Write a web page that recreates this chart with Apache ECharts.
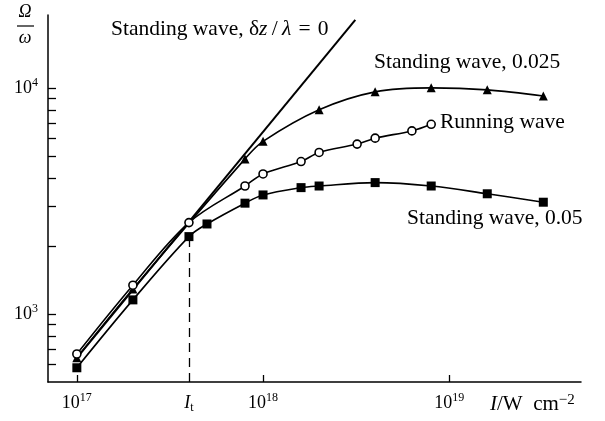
<!DOCTYPE html>
<html>
<head>
<meta charset="utf-8">
<script src="https://cdn.jsdelivr.net/npm/echarts@6/dist/echarts.min.js"></script>
<style>
    html, body { margin: 0; padding: 0; background: #fff; }
    #main { width: 605px; height: 421px; }
</style>
</head>
<body>
<div id="main"></div>
<script>
// intensities, W cm^-2
const zeroLine = [[1e17, 640], [3.13e18, 20000]]

const tri = [
    [1e17, 640], [2e17, 1290], [8e17, 4850], [1e18, 5800], [2e18, 8000],
    [4e18, 9600], [8e18, 10000], [1.6e19, 9800], [3.2e19, 9200]
]

const running = [
    [1e17, 665], [2e17, 1340], [4e17, 2535], [8e17, 3680], [1e18, 4160],
    [1.6e18, 4720], [2e18, 5180], [3.2e18, 5640], [4e18, 5990], [6.3e18, 6450], [8e18, 6900]
]

const squares = [
    [1e17, 578], [2e17, 1154], [4e17, 2198], [5e17, 2500], [8e17, 3090], [1e18, 3360],
    [1.6e18, 3620], [2e18, 3680], [4e18, 3810], [8e18, 3680], [1.6e19, 3400], [3.2e19, 3120]
]

const xTicks = [1e17, 1e18, 1e19]
const xLabels = [1e17, 4e17, 1e18, 1e19]
const yTicks = [600, 700, 800, 900, 1000, 2000, 3000, 4000, 5000, 6000, 7000, 8000, 9000, 10000]
const yLabels = [1000, 10000]
const threshold = 4e17

const xMin = 7e16, xMax = 5.1e19
const yMin = 500, yMax = 21000

// tick length as a factor along each log axis (~8px and ~7px)
const tickX = 1.104
const tickY = 1.074

const serif = 'Liberation Serif'

const rich = {
    n: { fontFamily: serif, fontSize: 18, lineHeight: 22, color: '#000' },
    s: { fontFamily: serif, fontSize: 12, lineHeight: 12, verticalAlign: 'top', color: '#000' },
    i: { fontFamily: serif, fontSize: 18, lineHeight: 22, fontStyle: 'italic', color: '#000' },
    t: { fontFamily: serif, fontSize: 12, lineHeight: 12, verticalAlign: 'bottom', color: '#000' }
}

function powLabel(v) {
    let p = Math.round(Math.log10(v))
    if (Math.abs(Math.log10(v) - Math.log10(threshold)) < 0.01) {
        return '{i|I}{t|t}'
    }
    return '{n|10}{s|' + p + '}'
}

const tickSegments = yTicks.map(v => [{ coord: [xMin, v] }, { coord: [xMin * tickX, v] }])
    .concat(xTicks.map(v => [{ coord: [v, yMin] }, { coord: [v, yMin * tickY] }]))

const myChart = echarts.init(document.getElementById('main'))

const black = '#000'
const labelFont = '21.5px "Liberation Serif"'

const option = {
    animation: false,
    backgroundColor: '#fff',
    grid: {
        left: 48,
        right: 24,
        top: 15,
        bottom: 39
    },
    xAxis: {
        type: 'log',
        logBase: 10,
        min: xMin,
        max: xMax,
        axisLine: { lineStyle: { color: black, width: 1.5 } },
        axisTick: { show: false },
        axisLabel: {
            customValues: xLabels,
            margin: 10,
            formatter: powLabel,
            rich: rich
        },
        splitLine: { show: false }
    },
    yAxis: {
        type: 'log',
        logBase: 10,
        min: yMin,
        max: yMax,
        axisLine: { show: true, lineStyle: { color: black, width: 1.5 } },
        axisTick: { show: false },
        axisLabel: {
            customValues: yLabels,
            margin: 10,
            formatter: powLabel,
            rich: rich
        },
        splitLine: { show: false }
    },
    series: [
        {
            name: 'zero',
            type: 'line',
            data: zeroLine,
            symbol: 'none',
            lineStyle: { color: black, width: 2 },
            markLine: {
                silent: true,
                symbol: 'none',
                label: { show: false },
                lineStyle: { color: black, width: 1.3, type: 'solid' },
                data: tickSegments
            }
        },
        {
            name: 'standing 0.025',
            type: 'line',
            data: tri,
            smooth: 0.35,
            symbol: 'triangle',
            symbolSize: 9,
            itemStyle: { color: black },
            lineStyle: { color: black, width: 1.6 }
        },
        {
            name: 'standing 0.05',
            type: 'line',
            data: squares,
            smooth: 0.35,
            symbol: 'rect',
            symbolSize: 9,
            itemStyle: { color: black },
            lineStyle: { color: black, width: 1.6 },
            markLine: {
                silent: true,
                symbol: 'none',
                label: { show: false },
                lineStyle: { color: black, width: 1.3, type: [9, 6] },
                data: [
                    [{ coord: [threshold, yMin] }, { coord: [threshold, 2198] }]
                ]
            }
        },
        {
            name: 'running',
            type: 'line',
            data: running,
            smooth: 0.35,
            symbol: 'circle',
            symbolSize: 8,
            itemStyle: { color: '#fff', borderColor: black, borderWidth: 1.6 },
            lineStyle: { color: black, width: 1.6 }
        }
    ],
    graphic: [
        {
            type: 'text',
            style: {
                x: 111, y: 29,
                verticalAlign: 'middle',
                text: '{r|Standing wave, δ}{i|z}{r|\u2009/\u2009}{i|λ}{r| \u200a=\u200a 0}',
                rich: {
                    r: { fontFamily: serif, fontSize: 21.5, fill: black },
                    i: { fontFamily: serif, fontSize: 21.5, fontStyle: 'italic', fill: black }
                }
            }
        },
        {
            type: 'text',
            style: {
                x: 374, y: 62, verticalAlign: 'middle',
                text: 'Standing wave, 0.025',
                font: labelFont, fill: black
            }
        },
        {
            type: 'text',
            style: {
                x: 440, y: 122, verticalAlign: 'middle',
                text: 'Running wave',
                font: labelFont, fill: black
            }
        },
        {
            type: 'text',
            style: {
                x: 407, y: 218, verticalAlign: 'middle',
                text: 'Standing wave, 0.05',
                font: labelFont, fill: black
            }
        },
        {
            type: 'text',
            style: {
                x: 490, y: 404, verticalAlign: 'middle',
                text: '{i|I}{r|/W\u2002cm}{s|−2}',
                rich: {
                    i: { fontFamily: serif, fontSize: 21, lineHeight: 22, fontStyle: 'italic', fill: black },
                    r: { fontFamily: serif, fontSize: 21, lineHeight: 22, fill: black },
                    s: { fontFamily: serif, fontSize: 15, lineHeight: 14, verticalAlign: 'top', fill: black }
                }
            }
        },
        // Ω / ω axis title
        {
            type: 'text',
            style: {
                x: 25, y: 12, align: 'center', verticalAlign: 'middle',
                text: 'Ω', font: 'italic 18px "Liberation Serif"', fill: black
            }
        },
        {
            type: 'line',
            shape: { x1: 17, y1: 26, x2: 34, y2: 26 },
            style: { stroke: black, lineWidth: 1.2 }
        },
        {
            type: 'text',
            style: {
                x: 25, y: 38, align: 'center', verticalAlign: 'middle',
                text: 'ω', font: 'italic 18px "Liberation Serif"', fill: black
            }
        }
    ]
}

myChart.setOption(option)
</script>
</body>
</html>
